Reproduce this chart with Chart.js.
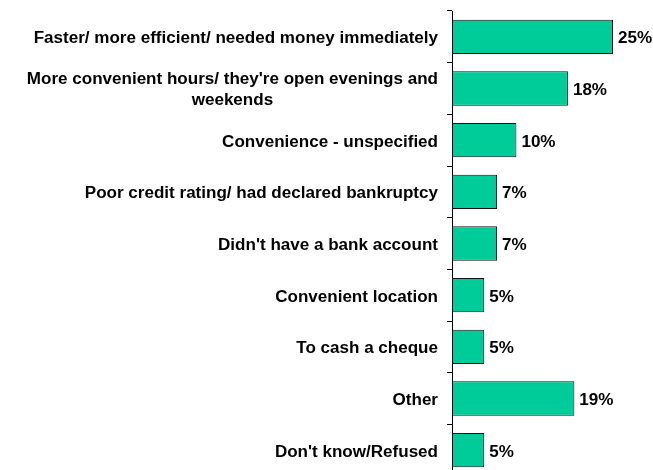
<!DOCTYPE html>
<html>
<head>
<meta charset="utf-8">
<script src="https://cdn.jsdelivr.net/npm/chart.js@4/dist/chart.umd.min.js"></script>
<style>
  html, body { margin: 0; padding: 0; background: #fff; overflow: hidden; }
  #wrap { width: 653px; height: 476px; }
</style>
</head>
<body>
<div id="wrap"><canvas id="reasons-chart"></canvas></div>
<script>
const categories = [
    ["Faster/ more efficient/ needed money immediately"],
    ["More convenient hours/ they're open evenings and", "weekends"],
    ["Convenience - unspecified"],
    ["Poor credit rating/ had declared bankruptcy"],
    ["Didn't have a bank account"],
    ["Convenient location"],
    ["To cash a cheque"],
    ["Other"],
    ["Don't know/Refused"]
];
const shares = [25, 18, 10, 7, 7, 5, 5, 19, 5];

const labelFont = 'bold 16px "Liberation Sans", Arial, sans-serif';
const stretch = 1.065; // the original text is a bit wider than Arial

function drawText(c, text, x, y, align) {
    c.save();
    c.translate(x, y);
    c.scale(stretch, 1);
    c.textAlign = align;
    c.fillText(text, 0, 0);
    c.restore();
}

// category labels (centred lines, right-aligned block) and value labels
const labelPlugin = {
    id: 'labels',
    afterDatasetsDraw(chart) {
        const c = chart.ctx;
        const y = chart.scales.y;
        const x = chart.scales.x;
        c.save();
        c.font = labelFont;
        c.fillStyle = '#000';
        c.textBaseline = 'middle';
        categories.forEach((lines, i) => {
            const cy = y.getPixelForValue(i);
            const widest = Math.max(...lines.map(l => c.measureText(l).width)) * stretch;
            const right = chart.chartArea.left - 14;
            const lh = 21;
            lines.forEach((l, j) => {
                const ly = cy + (j - (lines.length - 1) / 2) * lh + 2;
                drawText(c, l, right - widest / 2, ly, 'center');
            });
            drawText(c, shares[i] + '%', x.getPixelForValue(shares[i]) + 5, cy + 2, 'left');
        });
        c.restore();
    }
};

const ctx = document.getElementById('reasons-chart').getContext('2d');
const chart = new Chart(ctx, {
    type: 'bar',
    data: {
        labels: categories,
        datasets: [{
            data: shares,
            backgroundColor: '#00CC99',
            borderColor: '#111',
            borderWidth: 1,
            borderSkipped: false,
            categoryPercentage: 1,
            barPercentage: 0.665
        }]
    },
    options: {
        indexAxis: 'y',
        responsive: true,
        maintainAspectRatio: false,
        animation: false,
        layout: { padding: { top: 11, right: 40, bottom: 0, left: 0 } },
        plugins: { legend: { display: false }, tooltip: { enabled: false } },
        scales: {
            x: { display: false, min: 0, max: 25 },
            y: {
                offset: true,
                ticks: { display: false },
                grid: { offset: true, drawOnChartArea: false, drawTicks: true, tickLength: 5, color: '#000' },
                border: { display: true, color: '#000', width: 1 },
                afterFit(scale) { scale.width = 452; }
            }
        }
    },
    plugins: [labelPlugin]
});
</script>
</body>
</html>
